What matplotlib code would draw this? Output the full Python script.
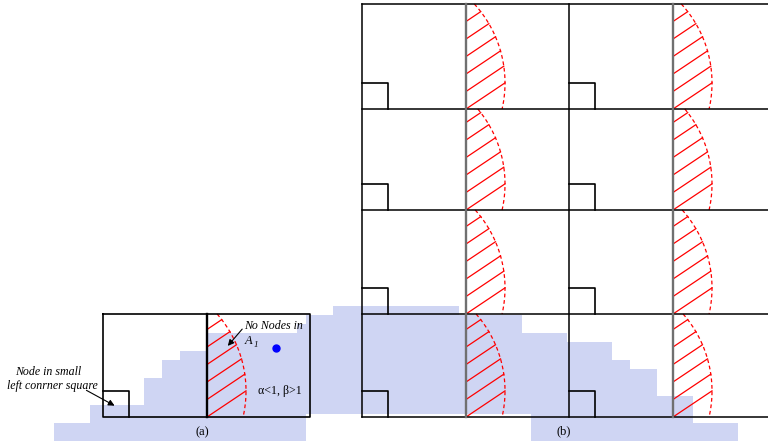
import numpy as np
import matplotlib.pyplot as plt
from matplotlib.path import Path

plt.rcParams['font.family'] = ['Liberation Serif', 'DejaVu Serif']

# grid of panel (b), pixel units (y grows downward)
col_x = [362, 466, 569, 673, 776]
row_y = [4, 109, 210, 314, 417]
# panel (a): one cell pair
a_x = [103, 207, 310]
a_y = [314, 417]

sq = 26          # side of the small corner square
R = 117          # radius of the dashed arc around the square corner
hatch_step = 17.5
hatch_slope = 0.67
n_hatch = 6

node = (276, 348)

# low resolution background patch
blob = [(50, 444), (50, 423), (87, 423), (87, 405), (140, 405), (140, 380), (160, 380),
        (160, 360), (183, 360), (183, 350), (207, 350), (207, 337), (233, 337), (233, 333),
        (293, 333), (293, 322), (310, 322), (310, 313), (333, 313), (333, 305), (463, 305),
        (463, 315), (520, 315), (520, 333), (570, 333), (570, 342), (613, 342), (613, 360),
        (633, 360), (633, 370), (657, 370), (657, 397), (697, 397), (697, 423), (740, 423),
        (740, 444), (530, 444), (530, 412), (310, 412), (310, 444)]

fig = plt.figure(figsize=(7.68, 4.44), dpi=100)
ax = fig.add_axes([0, 0, 1, 1])

# mosaic patch
cell = 9
nx, ny = int(np.ceil(768 / cell)), int(np.ceil(444 / cell))
gx, gy = np.meshgrid(np.arange(nx) * cell + cell / 2, np.arange(ny) * cell + cell / 2)
inside = Path(blob).contains_points(np.c_[gx.ravel(), gy.ravel()]).reshape(ny, nx)
img = np.ones((ny, nx, 4))
img[..., :3] = np.array([196, 203, 240]) / 255
img[..., 3] = inside * 0.8
ax.imshow(img, extent=(0, nx * cell, ny * cell, 0), origin='upper',
          interpolation='nearest', aspect='auto', zorder=0)


def hatched_cell(x0, xm, top, bot):
    # small square in the lower left corner
    ax.plot([x0, x0 + sq, x0 + sq], [bot - sq, bot - sq, bot], color='black', lw=1.2, zorder=3)
    cx, cy = x0 + sq, bot - sq
    # dashed arc bounding the region right of the middle line
    yy = np.linspace(top, bot, 80)
    xx = cx + np.sqrt(R ** 2 - (yy - cy) ** 2)
    ax.plot(xx, yy, color='red', lw=0.9, ls=(0, (3, 2.2)), zorder=2)
    # hatch lines from the middle line to the arc
    d = np.array([1.0, -hatch_slope])
    for k in range(n_hatch):
        ys = bot - k * hatch_step
        px, py = xm - cx, ys - cy
        a = d @ d
        b = 2 * (px * d[0] + py * d[1])
        c = px ** 2 + py ** 2 - R ** 2
        s = (-b + np.sqrt(b * b - 4 * a * c)) / (2 * a)
        s = min(s, (ys - top) / hatch_slope)
        ax.plot([xm, xm + s], [ys, ys - hatch_slope * s], color='red', lw=0.9, zorder=2)


# panel (b)
for y in row_y:
    ax.plot([col_x[0], 768], [y, y], color='black', lw=1.1, zorder=3)
for i, x in enumerate(col_x[:-1]):
    mid = i % 2 == 1
    ax.plot([x, x], [row_y[0], row_y[-1]], color='#707070' if mid else 'black',
            lw=1.7 if mid else 1.1, zorder=3)
for r in range(len(row_y) - 1):
    for c in (0, 2):
        hatched_cell(col_x[c], col_x[c + 1], row_y[r], row_y[r + 1])

# panel (a)
ax.plot([a_x[0], a_x[2], a_x[2], a_x[0], a_x[0]], [a_y[0], a_y[0], a_y[1], a_y[1], a_y[0]],
        color='black', lw=1.2, zorder=3)
ax.plot([a_x[1], a_x[1]], a_y, color='black', lw=1.7, zorder=3)
hatched_cell(a_x[0], a_x[1], a_y[0], a_y[1])
ax.plot(*node, 'o', color='blue', ms=5, zorder=4)

# labels
ax.text(274, 326, 'No Nodes in', fontsize=8.6, style='italic', ha='center', va='center', zorder=5)
ax.text(245, 341, 'A', fontsize=9, style='italic', ha='left', va='center', zorder=5)
ax.text(254, 345, '1', fontsize=6.5, style='italic', ha='left', va='center', zorder=5)
ax.annotate('', xy=(226, 348), xytext=(244, 327),
            arrowprops=dict(arrowstyle='-|>', color='black', lw=0.8, mutation_scale=9), zorder=5)
ax.text(280, 391, 'α<1, β>1', fontsize=8.6, ha='center', va='center', zorder=5)
ax.text(48, 372, 'Node in small', fontsize=8.6, style='italic', ha='center', va='center', zorder=5)
ax.text(52, 386, 'left conrner square', fontsize=8.6, style='italic', ha='center', va='center', zorder=5)
ax.annotate('', xy=(117, 407), xytext=(84, 389),
            arrowprops=dict(arrowstyle='-|>', color='black', lw=0.8, mutation_scale=9), zorder=5)
ax.text(202, 432, '(a)', fontsize=9, ha='center', va='center', zorder=5)
ax.text(564, 431, '(b)', fontsize=9, ha='center', va='center', zorder=5)

ax.set_xlim(0, 768)
ax.set_ylim(444, 0)
ax.axis('off')
fig.savefig('out.png', dpi=100)
